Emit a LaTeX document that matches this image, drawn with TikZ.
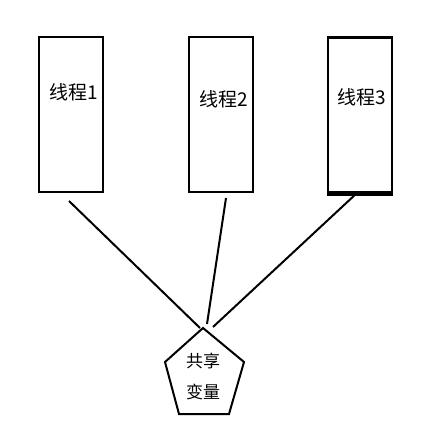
\documentclass[tikz,border=0pt]{standalone}
\usepackage{fontspec}
\newfontfamily\cjk{Noto Sans CJK SC}

\begin{document}
\begin{tikzpicture}[x=1pt, y=-1pt,
		threadbox/.style={draw, line width=2pt, minimum width=64pt, minimum height=155pt, inner sep=0pt},
		threadtext/.style={font=\cjk\fontsize{19}{21}\selectfont, inner sep=0pt},
		link/.style={line width=2pt}]
			%%%%% START %%%%%
			
			\useasboundingbox (0, 0) rectangle (447, 427);
			
			\node[threadbox] (t1) at (71, 115) {};
			\node[threadbox] (t2) at (221, 115) {};
			\node[threadbox, line width=2.6pt] (t3) at (360, 115) {};
			\draw[line width=4pt] (t3.south west) -- (t3.south east);
			\node[threadtext] (t1txt) at (74, 92) {线程1};
			\node[threadtext] (t2txt) at (224, 99) {线程2};
			\node[threadtext] (t3txt) at (362, 97) {线程3};
			
			\draw[line width=2pt] (203, 328) -- (244, 362) -- (229, 414) -- (179, 414) -- (165, 362) -- cycle;
			\node[font=\cjk\fontsize{17}{31}\selectfont, align=center, inner sep=0pt] (shared) at (203, 376) {共享\\变量};
			
			\coordinate (f1) at (69, 201);
			\coordinate (f2) at (226, 198);
			\coordinate (f3) at (357, 193);
			\coordinate (h1) at (200, 328);
			\coordinate (h2) at (207, 324);
			\coordinate (h3) at (213, 327);
			
			\draw[link] (f1) -- (h1);
			\draw[link] (f2) -- (h2);
			\draw[link] (f3) -- (h3);
			
			%%%%% END %%%%%
\end{tikzpicture}
\end{document}
